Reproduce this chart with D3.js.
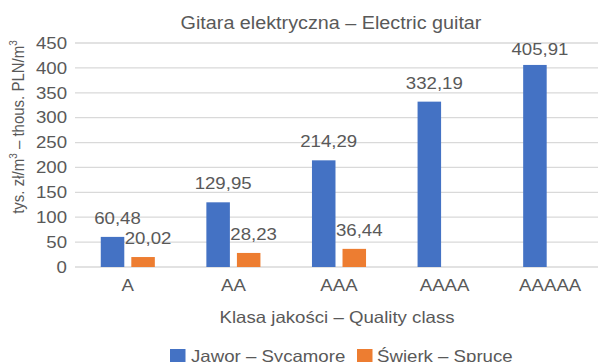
<!DOCTYPE html>
<html>
<head>
<meta charset="utf-8">
<script src="https://cdn.jsdelivr.net/npm/d3@7"></script>
<style>
  html, body { margin: 0; padding: 0; background: #fff; }
  svg { display: block; }
  text { font-family: "Liberation Sans", Arial, sans-serif; fill: #595959; }
</style>
</head>
<body>
<svg id="chart" width="598" height="362"></svg>
<script>
// Price per cubic metre of tonewood by quality class
const categories = ["A", "AA", "AAA", "AAAA", "AAAAA"];
const seriesNames = ["Jawor – Sycamore", "Świerk – Spruce"];
const sycamore = [60.48, 129.95, 214.29, 332.19, 405.91];
const spruce = [20.02, 28.23, 36.44, null, null];
const yTicks = [0, 50, 100, 150, 200, 250, 300, 350, 400, 450];
const colors = ["#4472C4", "#ED7D31"];

const svg = d3.select("#chart");
const W = 598, H = 362;
const plot = { left: 75, right: 603, top: 43, bottom: 267 };
const fs = 16.5;      // body text size
const sx = 1.13;      // horizontal widening of the lettering

svg.append("defs").append("clipPath").attr("id", "clip")
  .append("rect").attr("width", W).attr("height", H);
const root = svg.append("g").attr("clip-path", "url(#clip)");

// place a horizontally widened text at (x, y)
function label(parent, x, y, str, size, anchor) {
  return parent.append("text")
    .attr("transform", `translate(${x},${y}) scale(${sx},1)`)
    .attr("text-anchor", anchor || "middle")
    .attr("font-size", size)
    .text(str);
}

const x0 = d3.scaleBand().domain(categories).range([plot.left, plot.right]).padding(0);
const bw = x0.bandwidth();
const x1 = d3.scaleBand().domain(seriesNames)
  .range([bw / 2 - bw * 0.256, bw / 2 + bw * 0.256]).paddingInner(0.23).paddingOuter(0);
const y = d3.scaleLinear().domain([0, 450]).range([plot.bottom, plot.top]);

// gridlines
root.append("g").selectAll("line").data(yTicks).join("line")
  .attr("x1", plot.left).attr("x2", plot.right)
  .attr("y1", d => y(d)).attr("y2", d => y(d))
  .attr("stroke", "#D9D9D9").attr("stroke-width", 1.3);

// y axis tick labels
const yAxis = d3.axisLeft(y).tickValues(yTicks).tickSize(0).tickPadding(0);
const gy = root.append("g").attr("transform", `translate(${plot.left - 8},0)`).call(yAxis);
gy.select(".domain").remove();
gy.selectAll("text").attr("x", 0).attr("font-size", fs).style("font-family", null)
  .attr("fill", "#595959").attr("transform", `scale(${sx},1)`);

// x axis category labels
const xAxis = d3.axisBottom(x0).tickSize(0).tickPadding(12.5);
const gx = root.append("g").attr("transform", `translate(0,${plot.bottom})`).call(xAxis);
gx.select(".domain").remove();
gx.selectAll("text").attr("font-size", fs).style("font-family", null)
  .attr("fill", "#595959").attr("transform", `scale(${sx},1)`);

// bars
const rows = categories.map((c, i) => ({
  cat: c,
  vals: [
    { s: seriesNames[0], v: sycamore[i], k: 0 },
    { s: seriesNames[1], v: spruce[i], k: 1 }
  ].filter(d => d.v != null)
}));

const groups = root.append("g").selectAll("g").data(rows).join("g")
  .attr("transform", d => `translate(${x0(d.cat)},0)`);

groups.selectAll("rect").data(d => d.vals).join("rect")
  .attr("x", d => x1(d.s))
  .attr("width", x1.bandwidth())
  .attr("y", d => y(d.v))
  .attr("height", d => y(0) - y(d.v))
  .attr("fill", d => colors[d.k]);

// value labels above bars, kept inside the plot area
const fmt = v => d3.format(".2f")(v).replace(".", ",");
groups.each(function (row) {
  const g = d3.select(this);
  row.vals.forEach(d => {
    const cx = x1(d.s) + x1.bandwidth() / 2 + 5;
    const by = Math.max(y(d.v) - 13, plot.top + 12.3);
    label(g, cx, by, fmt(d.v), fs);
  });
});

// title
label(root, 331, 29, "Gitara elektryczna – Electric guitar", 17.5);

// x axis title
label(root, 337, 323, "Klasa jakości – Quality class", fs);

// y axis title
const yt = root.append("text")
  .attr("transform", `translate(24,127) scale(${sx},1) rotate(-90)`)
  .attr("text-anchor", "middle").attr("font-size", 15);
yt.append("tspan").text("tys. zł/m");
yt.append("tspan").attr("dy", -6).attr("font-size", 10).text("3");
yt.append("tspan").attr("dy", 6).text(" – thous. PLN/m");
yt.append("tspan").attr("dy", -6).attr("font-size", 10).text("3");

// legend
const legSwatchX = [170, 357];
const legTextX = [191, 377];
seriesNames.forEach((name, i) => {
  root.append("rect").attr("x", legSwatchX[i]).attr("y", 349)
    .attr("width", 15.5).attr("height", 15).attr("fill", colors[i]);
  label(root, legTextX[i], 361.5, name, fs, "start");
});
</script>
</body>
</html>
